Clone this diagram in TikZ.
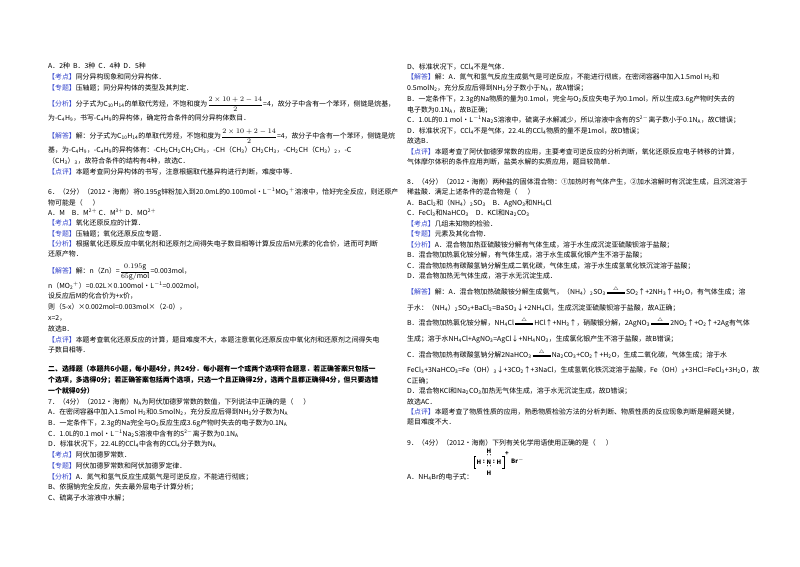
\documentclass[tikz,border=0pt]{standalone}
\usepackage{fontspec}
\setmainfont{Noto Sans CJK SC}
\usepackage{amsmath}
\definecolor{tagc}{HTML}{3344CC}
\newcommand\tg[1]{\textcolor{tagc}{【#1】}}
\newcommand\sub[1]{$_{\mathrm{#1}}$}
\newcommand\sps[1]{$^{\mathrm{#1}}$}
\newcommand\heat{\,$\overset{\triangle}{\rule[0.35ex]{2.6em}{0.4pt}\llap{\rule[0.6ex]{2.6em}{0.4pt}}}$\,}
\newcommand\LL[3]{\node[anchor=base west,inner sep=0pt] at (#1,{566-#2-2.5}) {#3};}
\begin{document}
\begin{tikzpicture}[x=1pt,y=1pt]
\useasboundingbox (0,0) rectangle (800,566);
\fill[white] (0,0) rectangle (800,566);
\fontsize{6.9}{8}\selectfont
% left column
\LL{48}{66}{A．2种\ \ B．3种\ \ C．4种\ \ D．5种}
\LL{48}{77}{\tg{考点}同分异构现象和同分异构体．}
\LL{48}{88}{\tg{专题}压轴题；同分异构体的类型及其判定．}
\LL{48}{104}{\tg{分析}分子式为C\sub{10}H\sub{14}的单取代芳烃，不饱和度为$\dfrac{2\times10+2-14}{2}$=4，故分子中含有一个苯环，侧链是烷基，}
\LL{48}{118}{为-C\sub{4}H\sub{9}，书写-C\sub{4}H\sub{9}的异构体，确定符合条件的同分异构体数目．}
\LL{48}{136}{\tg{解答}解：分子式为C\sub{10}H\sub{14}的单取代芳烃，不饱和度为$\dfrac{2\times10+2-14}{2}$=4，故分子中含有一个苯环，侧链是烷}
\LL{48}{150}{基，为-C\sub{4}H\sub{9}，-C\sub{4}H\sub{9}的异构体有：-CH\sub{2}CH\sub{2}CH\sub{2}CH\sub{3}，-CH（CH\sub{3}）CH\sub{2}CH\sub{3}，-CH\sub{2}CH（CH\sub{3}）\sub{2}，-C}
\LL{48}{161}{（CH\sub{3}）\sub{3}，故符合条件的结构有4种，故选C．}
\LL{48}{172}{\tg{点评}本题考查同分异构体的书写，注意根据取代基异构进行判断，难度中等．}
\LL{48}{192}{6．（2分）（2012•海南）将0.195g锌粉加入到20.0mL的0.100mol•L\sps{-1}MO\sub{2}\sps{+}溶液中，恰好完全反应，则还原产}
\LL{48}{203}{物可能是（\quad\ \ ）}
\LL{48}{213}{A．M\quad B．M\sps{2+}\ C．M\sps{3+}\ D．MO\sps{2+}}
\LL{48}{223}{\tg{考点}氧化还原反应的计算．}
\LL{48}{234}{\tg{专题}压轴题；氧化还原反应专题．}
\LL{48}{244}{\tg{分析}根据氧化还原反应中氧化剂和还原剂之间得失电子数目相等计算反应后M元素的化合价，进而可判断}
\LL{48}{254}{还原产物．}
\LL{48}{271}{\tg{解答}解：n（Zn）=$\dfrac{0.195\mathrm{g}}{65\mathrm{g/mol}}$=0.003mol，}
\LL{48}{286}{n（MO\sub{2}\sps{+}）=0.02L×0.100mol•L\sps{-1}=0.002mol，}
\LL{48}{296}{设反应后M的化合价为+x价，}
\LL{48}{307}{则（5-x）×0.002mol=0.003mol×（2-0），}
\LL{48}{318}{x=2，}
\LL{48}{329}{故选B．}
\LL{48}{340}{\tg{点评}本题考查氧化还原反应的计算，题目难度不大，本题注意氧化还原反应中氧化剂和还原剂之间得失电}
\LL{48}{350}{子数目相等．}
\LL{48}{369}{\textbf{二、选择题（本题共6小题，每小题4分，共24分．每小题有一个或两个选项符合题意．若正确答案只包括一}}
\LL{48}{380}{\textbf{个选项，多选得0分；若正确答案包括两个选项，只选一个且正确得2分，选两个且都正确得4分，但只要选错}}
\LL{48}{391}{\textbf{一个就得0分）}}
\LL{48}{402}{7．（4分）（2012•海南）N\sub{A}为阿伏加德罗常数的数值，下列说法中正确的是（\quad\ \ ）}
\LL{48}{412}{A．在密闭容器中加入1.5mol H\sub{2}和0.5molN\sub{2}，充分反应后得到NH\sub{3}分子数为N\sub{A}}
\LL{48}{423}{B．一定条件下，2.3g的Na完全与O\sub{2}反应生成3.6g产物时失去的电子数为0.1N\sub{A}}
\LL{48}{434}{C．1.0L的0.1 mol•L\sps{-1}Na\sub{2}S溶液中含有的S\sps{2-}离子数为0.1N\sub{A}}
\LL{48}{444}{D．标准状况下，22.4L的CCl\sub{4}中含有的CCl\sub{4}分子数为N\sub{A}}
\LL{48}{455}{\tg{考点}阿伏加德罗常数．}
\LL{48}{466}{\tg{专题}阿伏加德罗常数和阿伏加德罗定律．}
\LL{48}{477}{\tg{分析}A．氮气和氢气反应生成氨气是可逆反应，不能进行彻底；}
\LL{48}{487}{B、依据钠完全反应，失去最外层电子计算分析；}
\LL{48}{498}{C、硫离子水溶液中水解；}
% right column
\LL{407}{67}{D、标准状况下，CCl\sub{4}不是气体．}
\LL{407}{77}{\tg{解答}解：A．氮气和氢气反应生成氨气是可逆反应，不能进行彻底，在密闭容器中加入1.5mol H\sub{2}和}
\LL{407}{88}{0.5molN\sub{2}，充分反应后得到NH\sub{3}分子数小于N\sub{A}，故A错误；}
\LL{407}{99}{B．一定条件下，2.3g的Na物质的量为0.1mol，完全与O\sub{2}反应失电子为0.1mol，所以生成3.6g产物时失去的}
\LL{407}{110}{电子数为0.1N\sub{A}，故B正确；}
\LL{407}{120}{C．1.0L的0.1 mol•L\sps{-1}Na\sub{2}S溶液中，硫离子水解减少，所以溶液中含有的S\sps{2-}离子数小于0.1N\sub{A}，故C错误；}
\LL{407}{131}{D．标准状况下，CCl\sub{4}不是气体，22.4L的CCl\sub{4}物质的量不是1mol，故D错误；}
\LL{407}{141}{故选B．}
\LL{407}{152}{\tg{点评}本题考查了阿伏伽德罗常数的应用，主要考查可逆反应的分析判断，氧化还原反应电子转移的计算，}
\LL{407}{162}{气体摩尔体积的条件应用判断，盐类水解的实质应用，题目较简单．}
\LL{407}{182}{8．（4分）（2012•海南）两种盐的固体混合物：①加热时有气体产生，②加水溶解时有沉淀生成，且沉淀溶于}
\LL{407}{192}{稀盐酸．满足上述条件的混合物是（\quad\ \ ）}
\LL{407}{203}{A．BaCl\sub{2}和（NH\sub{4}）\sub{2}SO\sub{3}\quad B．AgNO\sub{3}和NH\sub{4}Cl}
\LL{407}{213}{C．FeCl\sub{3}和NaHCO\sub{3}\quad D．KCl和Na\sub{2}CO\sub{3}}
\LL{407}{224}{\tg{考点}几组未知物的检验．}
\LL{407}{234}{\tg{专题}元素及其化合物．}
\LL{407}{245}{\tg{分析}A．混合物加热亚硫酸铵分解有气体生成，溶于水生成沉淀亚硫酸钡溶于盐酸；}
\LL{407}{255}{B．混合物加热氯化铵分解，有气体生成，溶于水生成氯化银产生不溶于盐酸；}
\LL{407}{266}{C．混合物加热有碳酸氢钠分解生成二氧化碳，气体生成，溶于水生成氢氧化铁沉淀溶于盐酸；}
\LL{407}{276}{D．混合物加热无气体生成，溶于水无沉淀生成．}
\LL{407}{292}{\tg{解答}解：A．混合物加热硫酸铵分解生成氨气，（NH\sub{4}）\sub{2}SO\sub{3}\heat SO\sub{2}↑+2NH\sub{3}↑+H\sub{2}O，有气体生成；溶}
\LL{407}{308}{于水：（NH\sub{4}）\sub{2}SO\sub{3}+BaCl\sub{2}=BaSO\sub{3}↓+2NH\sub{4}Cl，生成沉淀亚硫酸钡溶于盐酸，故A正确；}
\LL{407}{323}{B．混合物加热氯化铵分解，NH\sub{4}Cl\heat HCl↑+NH\sub{3}↑，硝酸银分解，2AgNO\sub{3}\heat 2NO\sub{2}↑+O\sub{2}↑+2Ag有气体}
\LL{407}{339}{生成；溶于水NH\sub{4}Cl+AgNO\sub{3}=AgCl↓+NH\sub{4}NO\sub{3}，生成氯化银产生不溶于盐酸，故B错误；}
\LL{407}{355}{C．混合物加热有碳酸氢钠分解2NaHCO\sub{3}\heat Na\sub{2}CO\sub{3}+CO\sub{2}↑+H\sub{2}O，生成二氧化碳，气体生成；溶于水}
\LL{407}{370}{FeCl\sub{3}+3NaHCO\sub{3}=Fe（OH）\sub{3}↓+3CO\sub{2}↑+3NaCl，生成氢氧化铁沉淀溶于盐酸，Fe（OH）\sub{3}+3HCl=FeCl\sub{3}+3H\sub{2}O，故}
\LL{407}{381}{C正确；}
\LL{407}{391}{D．混合物KCl和Na\sub{2}CO\sub{3}加热无气体生成，溶于水无沉淀生成，故D错误；}
\LL{407}{402}{故选AC．}
\LL{407}{412}{\tg{点评}本题考查了物质性质的应用，熟悉物质检验方法的分析判断、物质性质的反应现象判断是解题关键，}
\LL{407}{422}{题目难度不大．}
\LL{407}{443}{9．（4分）（2012•海南）下列有关化学用语使用正确的是（\quad\ \ ）}
\LL{407}{477}{A．NH\sub{4}Br的电子式：}
% electron formula
\begin{scope}[font=\fontsize{6}{6}\selectfont\bfseries]
\node[inner sep=0] (nN) at (489,{566-462}) {N};
\node[inner sep=0] (nHt) at (489,{566-451}) {H};
\node[inner sep=0] (nHb) at (489,{566-473}) {H};
\node[inner sep=0] (nHl) at (479,{566-462}) {H};
\node[inner sep=0] (nHr) at (499,{566-462}) {H};
\node[inner sep=0] at (484,{566-462}) {:};
\node[inner sep=0] at (494,{566-462}) {:};
\node[inner sep=0] at (489,{566-456.5}) {‥};
\node[inner sep=0] at (489,{566-467.5}) {‥};
\draw[line width=0.6pt] (476,{566-456}) -- (474,{566-456}) -- (474,{566-468}) -- (476,{566-468});
\draw[line width=0.6pt] (502,{566-456}) -- (504,{566-456}) -- (504,{566-468}) -- (502,{566-468});
\node[inner sep=0] at (507,{566-454}) {+};
\node[inner sep=0,anchor=west] at (511,{566-461}) {Br$^{-}$};
\end{scope}
\end{tikzpicture}
\end{document}
